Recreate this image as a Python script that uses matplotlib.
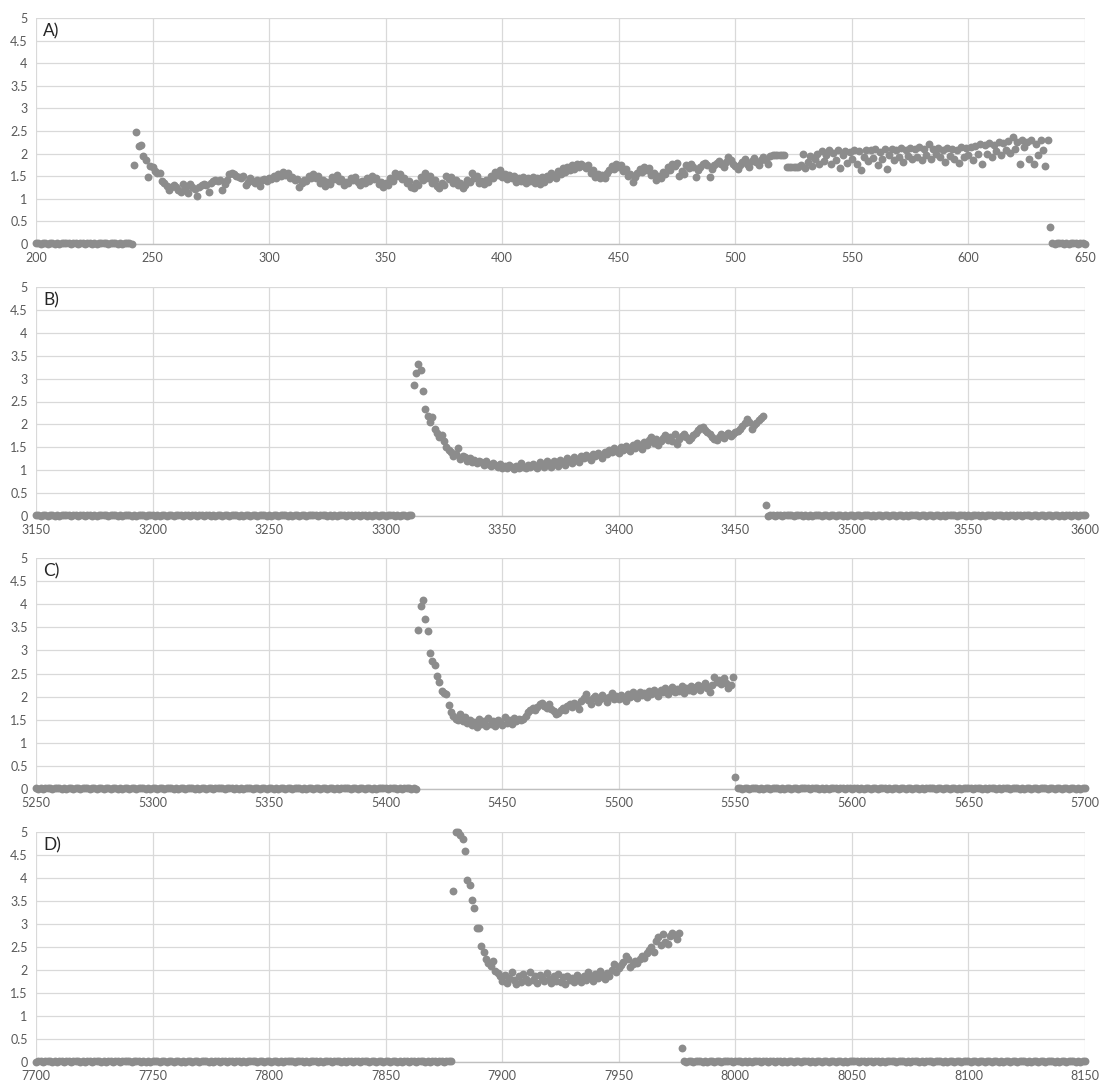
import numpy as np
import matplotlib
matplotlib.use("Agg")
import matplotlib.pyplot as plt

plt.rcParams["font.family"] = ["Lato", "DejaVu Sans"]

# values in hundredths
# baseline stretches are written as one digit per point
a_pre = "2312213212 1322312213 2123121322 2132213122 31"          # x = 200..241
a_act = [174, 248, 217, 219, 195, 185, 148, 172, 170, 162,
         158, 157, 140, 135, 128, 120, 126, 131, 127, 120,
         114, 132, 124, 113, 133, 126, 121, 107, 127, 131,
         133, 130, 116, 136, 140, 142, 139, 141, 119, 133,
         141, 154, 156, 155, 151, 148, 146, 151, 130, 138,
         146, 140, 136, 142, 129, 141, 144, 139, 146, 143,
         150, 146, 155, 151, 160, 153, 156, 146, 149, 141,
         144, 127, 135, 142, 139, 150, 145, 155, 147, 150,
         136, 141, 128, 138, 133, 148, 144, 152, 140, 144,
         130, 138, 135, 146, 141, 148, 137, 130, 139, 134,
         145, 140, 150, 143, 146, 133, 138, 126, 135, 131,
         147, 140, 158, 150, 154, 143, 146, 135, 140, 126,
         123, 134, 131, 148, 142, 156, 146, 150, 136, 141,
         128, 124, 136, 131, 150, 143, 149, 135, 141, 130,
         135, 125, 130, 142, 138, 156, 147, 151, 136, 140,
         132, 142, 137, 150, 145, 160, 152, 163, 149, 155,
         143, 152, 146, 150, 137, 145, 140, 148, 134, 145,
         140, 148, 136, 145, 133, 149, 138, 150, 143, 157,
         150, 147, 161, 155, 168, 160, 170, 163, 174, 167,
         176, 170, 178, 173, 169, 175, 158, 163, 149, 155,
         145, 152, 147, 158, 163, 172, 166, 178, 170, 175,
         161, 166, 150, 155, 138, 149, 158, 166, 160, 171,
         163, 168, 152, 157, 142, 150, 145, 160, 154, 170,
         164, 177, 172, 180, 150, 162, 155, 174, 168, 178,
         170, 149, 163, 171, 176, 180, 174, 149, 167, 175,
         180, 184, 176, 170, 181, 192, 186, 178, 172, 165,
         175, 182, 188, 178, 170, 184, 190, 181, 174, 186,
         192, 185, 178, 194, 197, 197, 197, 196, 197, 197,
         170, 170, 170, 170, 170, 171, 175, 200, 168, 182,
         195, 172, 188, 200, 178, 205, 183, 198, 207, 176,
         202, 186, 208, 168, 196, 206, 180, 203, 188, 209,
         178, 206, 163, 193, 209, 184, 207, 190, 211, 175,
         203, 188, 210, 165, 197, 211, 186, 208, 193, 212,
         182, 209, 195, 213, 188, 210, 192, 214, 186, 211,
         197, 221, 189, 210, 199, 212, 192, 208, 181, 213,
         195, 211, 189, 209, 180, 214, 193, 212, 196, 215,
         186, 217, 199, 221, 176, 218, 200, 223, 192, 219,
         205, 226, 196, 224, 209, 228, 202, 236, 210, 225,
         178, 229, 214, 226, 188, 230, 178, 222, 196, 231,
         207, 173, 229, 38]                                          # x = 242..635
a_post = "2132213122 31221"                                         # x = 636..650

b_pre = ("2312213212 1322312213 2123121322 2132213122 3121322132 2131221321 "
         "3221231221 2312213122 1321322131 2213212231 3122132213 1221321322 "
         "2132213121 3221321231 2213122132 1322131221 32")          # x = 3150..3311
b_act = [285, 312, 331, 318, 272, 234, 219, 205, 216, 191,
         181, 172, 177, 163, 150, 145, 140, 130, 135, 148,
         124, 132, 128, 120, 126, 118, 123, 115, 121, 117,
         112, 120, 114, 109, 116, 111, 106, 113, 104, 110,
         105, 112, 107, 103, 110, 104, 115, 108, 105, 111,
         106, 114, 109, 104, 117, 111, 107, 119, 113, 108,
         120, 115, 110, 123, 117, 112, 126, 120, 115, 129,
         123, 118, 131, 126, 134, 128, 122, 136, 131, 138,
         133, 127, 140, 135, 145, 139, 148, 141, 137, 150,
         144, 152, 147, 141, 155, 149, 159, 153, 147, 162,
         156, 165, 172, 160, 168, 154, 163, 170, 176, 166,
         172, 163, 178, 158, 168, 175, 180, 173, 167, 171,
         177, 182, 187, 192, 194, 188, 183, 178, 172, 168,
         166, 172, 178, 170, 176, 181, 174, 180, 183, 186,
         190, 196, 203, 212, 206, 190, 198, 204, 210, 214,
         218, 24]                                                   # x = 3312..3463
b_post = ("1221321322 2132213121 3221321231 2213122132 1322131221 2312213212 "
          "1322312213 2123121322 2132213122 3121322132 2131221321 3221231221 "
          "2312213122 1321322")                                     # x = 3464..3600

c_pre = ("3121322132 2131221321 3221231221 2312213122 1321322131 2213212231 "
         "3122132213 1221321322 2132213121 3221321231 2213122132 1322131221 "
         "2312213212 1322312213 2123121322 2132213122 2131")        # x = 5250..5413
c_act = [345, 396, 409, 369, 343, 294, 277, 269, 245, 232,
         212, 207, 205, 181, 166, 158, 152, 150, 163, 148,
         156, 142, 150, 138, 145, 134, 152, 140, 147, 137,
         153, 141, 148, 136, 150, 144, 139, 155, 143, 149,
         140, 154, 147, 152, 150, 151, 158, 166, 170, 175,
         172, 178, 184, 187, 180, 176, 183, 174, 168, 163,
         165, 172, 176, 170, 180, 184, 178, 186, 181, 174,
         190, 198, 205, 192, 185, 196, 201, 189, 194, 203,
         198, 188, 200, 207, 194, 202, 195, 204, 198, 191,
         206, 199, 209, 202, 196, 210, 203, 208, 199, 212,
         205, 214, 208, 201, 215, 209, 218, 206, 212, 220,
         210, 217, 213, 222, 208, 219, 215, 224, 212, 221,
         226, 214, 223, 229, 218, 210, 225, 242, 232, 236,
         228, 241, 230, 218, 225, 243, 26]                          # x = 5414..5550
c_post = ("2213212231 3122132213 1221321322 2132213121 3221321231 2213122132 "
          "1322131221 2312213212 1322312213 2123121322 2132213122 3121322132 "
          "2131221321 3221231221 2312213122")                       # x = 5551..5700

d_pre = ("1321322131 2213212231 3122132213 1221321322 2132213121 3221321231 "
         "2213122132 1322131221 2312213212 1322312213 2123121322 2132213122 "
         "3121322132 2131221321 3221231221 2312213122 1321322131 221321223")  # x = 7700..7878
d_act = [371, 500, 499, 494, 484, 458, 395, 385, 353, 334,
         291, 291, 253, 240, 224, 215, 208, 220, 198, 193,
         186, 176, 190, 172, 183, 195, 178, 170, 186, 174,
         192, 181, 173, 196, 179, 186, 171, 190, 183, 176,
         193, 180, 172, 187, 177, 191, 174, 184, 170, 188,
         178, 183, 175, 190, 181, 173, 188, 179, 195, 184,
         177, 192, 183, 198, 186, 180, 194, 188, 200, 213,
         195, 204, 210, 218, 231, 223, 206, 212, 220, 216,
         224, 231, 227, 236, 243, 250, 240, 262, 271, 255,
         278, 261, 257, 273, 281, 276, 268, 280, 31]                # x = 7879..7977
d_post = ("3122132213 1221321322 2132213121 3221321231 2213122132 1322131221 "
          "2312213212 1322312213 2123121322 2132213122 3121322132 2131221321 "
          "3221231221 2312213122 1321322131 2213212231 3122132213 122")  # x = 7978..8150

labels = ["A)", "B)", "C)", "D)"]
x_ranges = [(200, 650), (3150, 3600), (5250, 5700), (7700, 8150)]
segment_starts = [(200, 242, 636), (3150, 3312, 3464), (5250, 5414, 5551), (7700, 7879, 7978)]
segments = [(a_pre, a_act, a_post), (b_pre, b_act, b_post),
            (c_pre, c_act, c_post), (d_pre, d_act, d_post)]

# axes boxes in pixels (top, bottom) of the 0..5 range
rows_px = [(18, 244), (287, 516), (558, 789), (832, 1062)]

W, H = 1101, 1088
fig = plt.figure(figsize=(W / 100, H / 100), dpi=100)

point_color = "#8c8c8c"
grid_color = "#d9d9d9"

def digits(s):
    return [int(c) for c in s.replace(" ", "")]

for i in range(4):
    top, bottom = rows_px[i]
    ax = fig.add_axes([36 / W, 1 - bottom / H, 1049 / W, (bottom - top) / H])

    pre, act, post = segments[i]
    s0, s1, s2 = segment_starts[i]
    ys = [digits(pre), act, digits(post)]
    for start, vals in zip((s0, s1, s2), ys):
        x = start + np.arange(len(vals))
        y = np.array(vals) / 100
        ax.scatter(x, y, s=32, color=point_color, linewidths=0, clip_on=False, zorder=3)

    lo, hi = x_ranges[i]
    ax.set_xlim(lo, hi)
    ax.set_ylim(0, 5)
    ax.set_xticks(np.arange(lo, hi + 1, 50))
    ax.set_yticks(np.arange(0, 5.01, 0.5))
    ax.set_yticklabels(["0", "0.5", "1", "1.5", "2", "2.5", "3", "3.5", "4", "4.5", "5"])
    ax.grid(True, color=grid_color, linewidth=0.9)
    ax.set_axisbelow(True)
    for side in ["top", "right", "left"]:
        ax.spines[side].set_visible(False)
    ax.spines["bottom"].set_color("#bfbfbf")
    ax.spines["bottom"].set_linewidth(1.0)
    ax.tick_params(length=0, labelsize=9, labelcolor="#595959", pad=6)
    ax.text(0.007, 0.975, labels[i], transform=ax.transAxes, ha="left", va="top",
            fontsize=12.5, color="#262626")

fig.savefig("out.png", dpi=100)
